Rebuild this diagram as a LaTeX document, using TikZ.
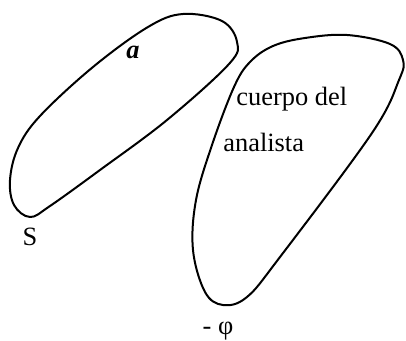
\documentclass[tikz,border=0pt]{standalone}
\usepackage{fontspec}
\setmainfont{Liberation Serif}
\begin{document}
\begin{tikzpicture}[
    x=0.5pt, y=-0.5pt,
    font=\fontsize{13.2}{15}\selectfont,
    blob/.style={draw=black, line width=1pt, line join=round},
    lbl/.style={inner sep=0pt},
  ]
  \useasboundingbox (0,0) rectangle (406,341);

  % left loop (S / a)
  \draw[blob] plot[smooth cycle, tension=0.6] coordinates {
    (183,14) (222,21) (237,42) (229,64) (167,120) (100,170)
    (50,206) (30,217) (14,205) (10,180) (18,148) (40,116)
    (93,67) (148,27)};

  % right loop (cuerpo del analista)
  \draw[blob] plot[smooth cycle, tension=0.6] coordinates {
    (347,35) (390,44) (403,60) (399,80) (372,133)
    (280,257) (247,297) (223,305) (205,292) (193,250) (196,200)
    (212,145) (234,87) (250,62) (273,46) (305,38)};

  \node[lbl] (a) at (133,52) {\textbf{\textit{a}}};
  \node[lbl] (S) at (30,237) {S};
  \node[lbl, anchor=base west] (cuerpo) at (236,106) {cuerpo del};
  \node[lbl, anchor=base west] (analista) at (223,152) {analista};
  \node[lbl] (phi) at (218,331) {- φ};
\end{tikzpicture}
\end{document}
